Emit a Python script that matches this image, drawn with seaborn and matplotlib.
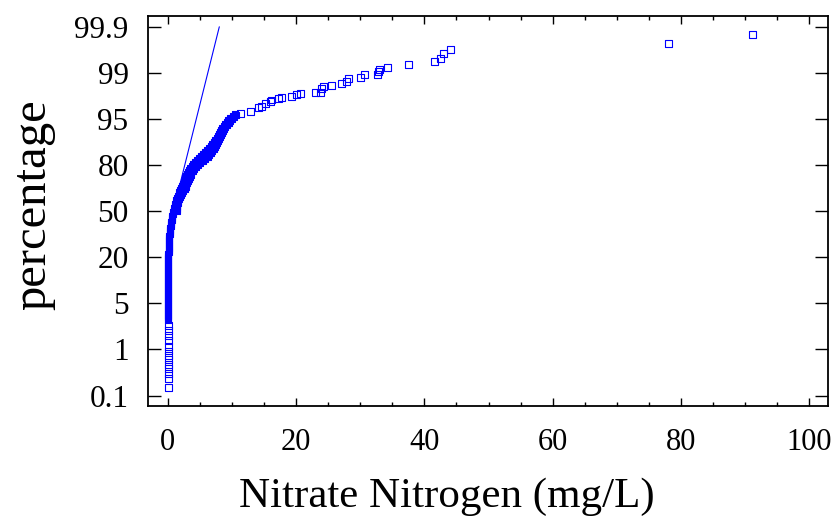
import numpy as np
import matplotlib
matplotlib.use("Agg")
import matplotlib.pyplot as plt
from matplotlib.ticker import FixedLocator, MultipleLocator, NullLocator
import seaborn as sns

# probability axis labels (drawn evenly spaced on the original plot)
pct_ticks = [0.1, 1, 5, 20, 50, 80, 95, 99, 99.9]
pct_labels = ["0.1", "1", "5", "20", "50", "80", "95", "99", "99.9"]
x_ticks = [0, 20, 40, 60, 80, 100]

# nitrate nitrogen (mg/L) and cumulative percentage
# low tail: separate squares at the detection limit
low_x = [0.1, 0.1, 0.1, 0.1, 0.1, 0.1, 0.1, 0.1, 0.1, 0.1, 0.1, 0.1, 0.1]
low_pct = [0.26, 0.43, 0.54, 0.63, 0.71, 0.81, 0.88, 0.97, 1.29, 1.78,
           2.22, 2.65, 3.09]

# dense body: squares overlap into a solid band (left side of the band)
body_x = [
    0.1, 0.1, 0.1, 0.1, 0.1, 0.1, 0.1, 0.1, 0.1, 0.1,
    0.1, 0.1, 0.1, 0.1, 0.1, 0.1, 0.1, 0.1, 0.1, 0.1,
    0.1, 0.1, 0.1, 0.1, 0.1, 0.1, 0.1, 0.1, 0.1, 0.1,
    0.1, 0.1, 0.1, 0.1,
    0.15, 0.15, 0.15, 0.2, 0.2, 0.2, 0.2, 0.25, 0.25,
    0.3, 0.3, 0.36, 0.4, 0.45, 0.5, 0.51, 0.6, 0.65, 0.67, 0.75, 0.85,
    0.95, 1.02, 1.1, 1.18, 1.24, 1.29, 1.42, 1.55, 1.68, 1.8, 1.92, 2.08,
    2.23, 2.38, 2.54, 2.65, 2.77, 2.85, 2.93, 3.12, 3.32, 3.52, 3.71,
    3.98, 4.26, 4.57, 4.88, 5.19, 5.5, 5.82, 6.13, 6.4, 6.67, 6.9, 7.14,
    7.38, 7.61, 7.8, 8.0, 8.15, 8.31, 8.5, 8.7, 8.93, 9.17, 9.44, 9.71,
    10.1, 10.49,
]
body_pct = [
    3.52, 3.70, 3.87, 4.04, 4.22, 4.39, 4.57, 4.74, 4.91, 5.33, 5.98, 6.63,
    7.28, 7.93, 8.59, 9.24, 9.89, 10.54, 11.20, 11.85, 12.50, 13.15, 13.80,
    14.46, 15.11, 15.76, 16.41, 17.07, 17.72, 18.37, 19.02, 19.67, 20.65,
    21.96, 23.26, 24.57, 25.87, 27.17, 28.48, 29.78, 31.09, 32.39, 33.70,
    35.00, 36.30, 37.61, 38.91, 40.22, 41.52, 42.83, 44.13, 45.43, 46.74,
    48.04, 49.35, 50.65, 51.96, 53.26, 54.57, 55.87, 57.17, 58.48, 59.78,
    61.09, 62.39, 63.70, 65.00, 66.30, 67.61, 68.91, 70.22, 71.52, 72.83,
    74.13, 75.43, 76.74, 78.04, 79.35, 80.33, 80.98, 81.63, 82.28, 82.93,
    83.59, 84.24, 84.89, 85.54, 86.20, 86.85, 87.50, 88.15, 88.80, 89.46,
    90.11, 90.76, 91.41, 92.07, 92.72, 93.37, 94.02, 94.67, 95.09, 95.26,
    95.43,
]

# right side of the band above the median
edge_x = [
    1.37, 1.42, 1.45, 1.50, 1.54, 1.57, 1.70, 1.89, 2.07, 2.26, 2.45, 2.67,
    2.79, 2.92, 3.04, 3.16, 3.30, 3.43, 3.55, 3.63, 3.90, 4.15, 4.41, 4.68,
    5.07, 5.46, 5.85, 6.24, 6.47, 6.70, 6.94, 7.14, 7.30, 7.45, 7.61, 7.76,
    7.92, 8.07, 8.23, 8.39, 8.54, 8.75, 8.99, 9.24, 9.49, 9.74, 10.02,
    10.34, 10.65,
]
edge_pct = [
    50.00, 51.30, 52.61, 53.91, 55.22, 56.52, 57.83, 59.13, 60.43, 61.74,
    63.04, 64.35, 65.65, 66.96, 68.26, 69.57, 70.87, 72.17, 73.48, 74.78,
    76.09, 77.39, 78.70, 80.00, 80.65, 81.30, 81.96, 82.61, 83.26, 83.91,
    84.57, 85.22, 85.87, 86.52, 87.17, 87.83, 88.48, 89.13, 89.78, 90.43,
    91.09, 91.74, 92.39, 93.04, 93.70, 94.35, 95.00, 95.17, 95.35,
]

# upper tail
high_x = [
    11.27, 12.83, 14.08, 14.65, 15.17, 15.95, 16.21, 17.24, 17.77, 19.33,
    20.11, 20.62, 22.96, 23.74, 24.01, 24.26, 25.57, 27.12, 27.9, 28.15,
    29.98, 30.6, 32.67, 32.83, 32.94, 34.29, 37.51, 41.51, 42.45, 42.96,
    44.12, 78.04, 91.19,
]
high_pct = [
    95.44, 95.64, 95.96, 96.07, 96.36, 96.50, 96.65, 96.80, 96.85, 96.94,
    97.09, 97.24, 97.32, 97.32, 97.67, 97.81, 97.90, 98.10, 98.24, 98.54,
    98.59, 98.83, 98.83, 99.03, 99.07, 99.11, 99.16, 99.22, 99.29, 99.38,
    99.46, 99.58, 99.75,
]

# reference normal line
line_x = [0.86, 8.04]
line_pct = [50, 99.9]

sns.set_style("ticks")
plt.rcParams["font.family"] = "serif"
plt.rcParams["font.serif"] = ["Liberation Serif", "Times New Roman", "DejaVu Serif"]
plt.rcParams["text.color"] = "black"
plt.rcParams["axes.labelcolor"] = "black"
plt.rcParams["xtick.color"] = "black"
plt.rcParams["ytick.color"] = "black"

# tick labels sit at equal spacing, so map percentages piecewise onto them
grid_pct = [0.01] + pct_ticks + [99.99]
grid_pos = np.arange(-5, 6)


def fwd(p):
    return np.interp(p, grid_pct, grid_pos)


def inv(u):
    return np.interp(u, grid_pos, grid_pct)


blue = "#0000ff"

fig = plt.figure(figsize=(8.33, 5.23), dpi=100)
ax = fig.add_axes([0.1777, 0.2237, 0.8163, 0.7457])
ax.set_yscale("function", functions=(fwd, inv))

# open squares for the tails
sns.scatterplot(x=low_x + high_x, y=low_pct + high_pct, ax=ax, marker="s",
                s=25, color=blue, facecolor="none", edgecolor=blue,
                linewidth=0.8, zorder=3)
# body squares pile up so densely that they read as solid
sns.scatterplot(x=body_x + edge_x, y=body_pct + edge_pct, ax=ax, marker="s",
                s=25, color=blue, facecolor=blue, edgecolor=blue,
                linewidth=0.8, zorder=3)
ax.plot(line_x, line_pct, color=blue, lw=0.8, zorder=2)

ax.set_xlim(-3.07, 102.9)
ax.set_ylim(inv(-4.226), inv(4.234))
ax.set_xticks(x_ticks)
ax.xaxis.set_minor_locator(MultipleLocator(5))
ax.yaxis.set_major_locator(FixedLocator(pct_ticks))
ax.yaxis.set_minor_locator(NullLocator())
ax.set_yticklabels(pct_labels)

ax.tick_params(which="both", direction="in", top=True, right=True,
               width=1.0, color="black", labelcolor="black")
ax.tick_params(axis="x", which="major", length=6, pad=16, labelsize=22)
ax.tick_params(axis="x", which="minor", length=3)
ax.tick_params(axis="y", which="major", length=9.5, pad=14, labelsize=22.5)
for sp in ax.spines.values():
    sp.set_linewidth(1.3)
    sp.set_color("black")

ax.set_xlabel("Nitrate Nitrogen (mg/L)", fontsize=31, color="black")
ax.xaxis.set_label_coords(0.44, -0.183)
ax.set_ylabel("percentage", fontsize=35, color="black")
ax.yaxis.set_label_coords(-0.137, 0.515)

fig.savefig("out.png", dpi=100)
